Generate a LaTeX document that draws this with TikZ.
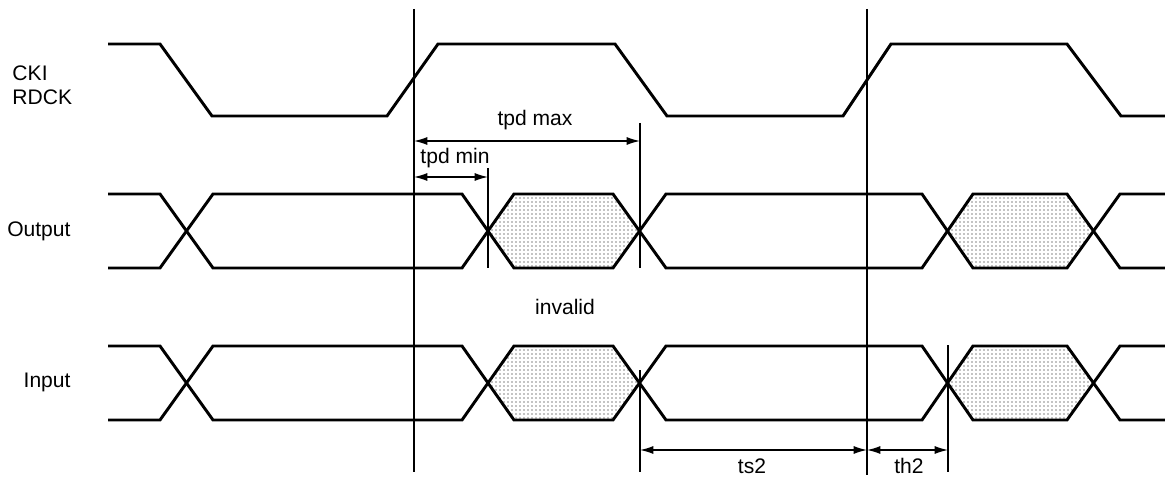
\documentclass[tikz,border=0pt]{standalone}
\usepackage{fontspec}
\setmainfont{Liberation Sans}
\usetikzlibrary{patterns,arrows.meta}

\tikzset{every picture/.style={line width=0.75pt}}
\tikzset{
  sig/.style={line width=2.2pt, line join=miter},
  marker/.style={line width=1.5pt},
  dim/.style={line width=1pt, {Latex[length=10pt,width=6pt]}-{Latex[length=10pt,width=6pt]}},
  lbl/.style={inner sep=0.75pt, font=\fontsize{15.8}{18}\selectfont},
  invalidzone/.style={pattern=dots, pattern color=black}
}

\begin{document}
\begin{tikzpicture}[x=0.75pt,y=0.75pt,yscale=-1,xscale=1]
		\useasboundingbox (0,0) rectangle (1165,478);

		%Shape: Hexagon output invalid 1
		\fill [invalidzone] (488,231) -- (514,194) -- (613,194) -- (640,231) -- (613,268) -- (514,268) -- cycle ;
		%Shape: Hexagon output invalid 2
		\fill [invalidzone] (948,231) -- (973,194) -- (1067,194) -- (1093,231) -- (1067,268) -- (973,268) -- cycle ;
		%Shape: Hexagon input invalid 1
		\fill [invalidzone] (488,383) -- (514,346) -- (613,346) -- (640,383) -- (613,420) -- (514,420) -- cycle ;
		%Shape: Hexagon input invalid 2
		\fill [invalidzone] (948,383) -- (973,346) -- (1067,346) -- (1093,383) -- (1067,420) -- (973,420) -- cycle ;

		%Clock CKI RDCK
		\draw [sig] (108,44) -- (160,44) -- (212,116) -- (387,116) -- (438,44) -- (615,44) -- (667,116) -- (843,116) -- (891,44) -- (1067,44) -- (1121,116) -- (1165,116) ;

		%Output bus
		\draw [sig] (108,194) -- (160,194) -- (213,268) -- (462,268) -- (514,194) -- (613,194) -- (666,268) -- (922,268) -- (973,194) -- (1067,194) -- (1120,268) -- (1165,268) ;
		\draw [sig] (108,268) -- (160,268) -- (213,194) -- (462,194) -- (514,268) -- (613,268) -- (666,194) -- (922,194) -- (973,268) -- (1067,268) -- (1120,194) -- (1165,194) ;

		%Input bus
		\draw [sig] (108,346) -- (160,346) -- (213,420) -- (462,420) -- (514,346) -- (613,346) -- (666,420) -- (922,420) -- (973,346) -- (1067,346) -- (1120,420) -- (1165,420) ;
		\draw [sig] (108,420) -- (160,420) -- (213,346) -- (462,346) -- (514,420) -- (613,420) -- (666,346) -- (922,346) -- (973,420) -- (1067,420) -- (1120,346) -- (1165,346) ;

		%Reference edges
		\coordinate (edgeA top) at (414,9) ;
		\coordinate (edgeA bot) at (414,472) ;
		\coordinate (edgeB top) at (867,9) ;
		\coordinate (edgeB bot) at (867,475) ;
		\draw [marker] (edgeA top) -- (edgeA bot) ;
		\draw [line width=0.9pt] (edgeB top) -- (edgeB bot) ;

		%Ticks
		\coordinate (tmin top) at (488,168) ;
		\coordinate (tmin bot) at (488,268) ;
		\coordinate (tmax top) at (640,123) ;
		\coordinate (tmax bot) at (640,268) ;
		\coordinate (ts top) at (640,370) ;
		\coordinate (ts bot) at (640,472) ;
		\coordinate (th top) at (948,345) ;
		\coordinate (th bot) at (948,472) ;
		\draw [marker] (tmin top) -- (tmin bot) ;
		\draw [marker] (tmax top) -- (tmax bot) ;
		\draw [marker] (ts top) -- (ts bot) ;
		\draw [marker] (th top) -- (th bot) ;

		%Dimension arrows
		\draw [dim] (414,141) -- (tmax top |- 0,141) ;
		\draw [dim] (414,177) -- (tmin top |- 0,177) ;
		\draw [dim] (ts top |- 0,450) -- (edgeB top |- 0,450) ;
		\draw [dim] (edgeB top |- 0,450) -- (th top |- 0,450) ;

		% Text Node
		\node (cki) [lbl, anchor=west] at (11,73) {CKI};
		% Text Node
		\node (rdck) [lbl, anchor=west] at (11,97) {RDCK};
		% Text Node
		\node (outlbl) [lbl, anchor=east] at (72,231) {Output};
		% Text Node
		\node (inlbl) [lbl, anchor=east] at (72,382) {Input};
		% Text Node
		\node (tpdmax) [lbl] at (535,120) {tpd max};
		% Text Node
		\node (tpdmin) [lbl] at (455,158) {tpd min};
		% Text Node
		\node (invalid) [lbl] at (565,307) {invalid};
		% Text Node
		\node (ts2) [lbl] at (752,466) {ts2};
		% Text Node
		\node (th2) [lbl] at (909,466) {th2};

\end{tikzpicture}
\end{document}
